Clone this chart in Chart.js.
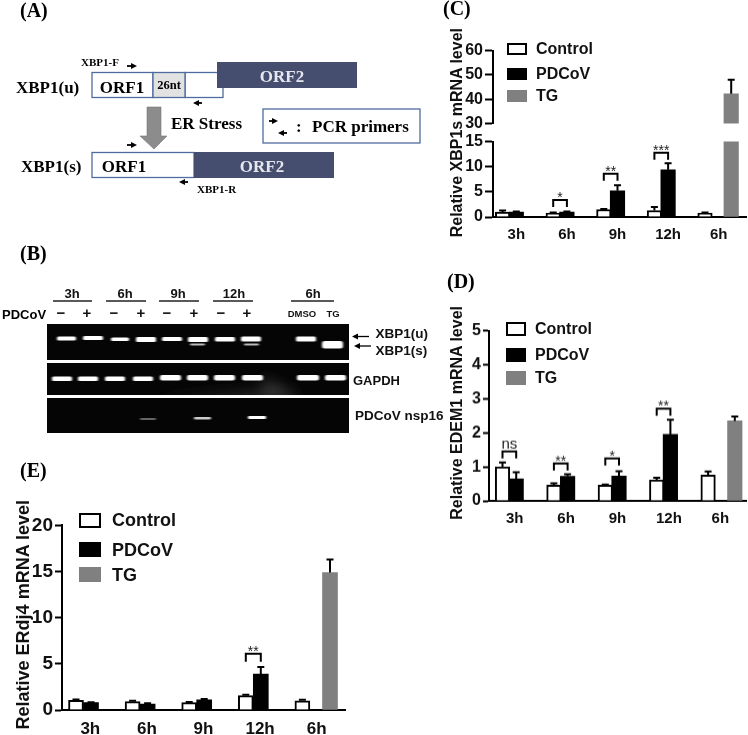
<!DOCTYPE html>
<html>
<head>
<meta charset="utf-8">
<title>XBP1 figure</title>
<script src="https://cdn.jsdelivr.net/npm/chart.js@4/dist/chart.umd.min.js"></script>
<style>
  html, body { margin: 0; padding: 0; background: #fff; }
  #page { position: relative; width: 748px; height: 735px; overflow: hidden; font-family: "Liberation Sans", Arial, sans-serif; color: #111; }
  #page canvas { position: absolute; }
  #page svg { position: absolute; left: 0; top: 0; }
  .soft { filter: blur(0.45px); }
  .box { position: absolute; box-sizing: border-box; }
  .lab { position: absolute; font-weight: bold; line-height: 1; transform: translateY(-50%); }
  .ytitle { position: absolute; font-weight: bold; white-space: nowrap; writing-mode: vertical-rl; transform: rotate(180deg); line-height: 20px; }
  .panel { font-family: "Liberation Serif", serif; font-weight: bold; font-size: 20px; }
  .ser { font-family: "Liberation Serif", serif; font-weight: bold; }
  .san { font-family: "Liberation Sans", sans-serif; font-weight: bold; }
</style>
</head>
<body>
<div id="page">
  <svg class="soft" width="748" height="735" viewBox="0 0 748 735">
    <defs>
      <marker id="ah" markerWidth="7" markerHeight="7" refX="4" refY="3" orient="auto" markerUnits="userSpaceOnUse">
        <path d="M0,0 L6,3 L0,6 Z" fill="#000"/>
      </marker>
      <filter id="band" x="-20%" y="-100%" width="140%" height="300%"><feGaussianBlur stdDeviation="0.9 0.6"/></filter>
      <filter id="haze" x="-30%" y="-30%" width="160%" height="160%"><feGaussianBlur stdDeviation="7"/></filter>
      <clipPath id="gel2"><rect x="47" y="363" width="302" height="32"/></clipPath>
    </defs>

    <!-- panel letters -->
    <text class="panel" x="20" y="17">(A)</text>
    <text class="panel" x="20" y="260">(B)</text>
    <text class="panel" x="443" y="15">(C)</text>
    <text class="panel" x="447" y="288">(D)</text>
    <text class="panel" x="20" y="477">(E)</text>

    <!-- A: schematic -->
    <rect x="185" y="72.5" width="38" height="25" fill="none" stroke="#4f6c9f" stroke-width="1.3"/>
    <rect x="217" y="62" width="140" height="26" fill="#454e6e"/>
    <rect x="92" y="72.5" width="61" height="25" fill="#fff" stroke="#4f6c9f" stroke-width="1.3"/>
    <rect x="153" y="72.5" width="32" height="25" fill="#e2e2e2" stroke="#4f6c9f" stroke-width="1.3"/>
    <text class="ser" x="81" y="66" font-size="11">XBP1-F</text>
    <line x1="127" y1="66" x2="135" y2="66" stroke="#000" stroke-width="1.8" marker-end="url(#ah)"/>
    <text class="ser" x="16" y="93" font-size="17">XBP1(u)</text>
    <text class="ser" x="122" y="93" font-size="17" text-anchor="middle">ORF1</text>
    <text class="ser" x="169" y="89" font-size="12.5" text-anchor="middle">26nt</text>
    <text class="ser" x="282" y="82" font-size="17" text-anchor="middle" fill="#e6e6ee">ORF2</text>
    <line x1="202" y1="103" x2="195" y2="103" stroke="#000" stroke-width="1.8" marker-end="url(#ah)"/>
    <path d="M147,107 L161,107 L161,136 L167,136 L154,149 L140,136 L147,136 Z" fill="#8c8c8c" stroke="#777" stroke-width="0.6"/>
    <text class="ser" x="171" y="129" font-size="17">ER Stress</text>
    <rect x="263" y="109" width="157" height="34" fill="#fff" stroke="#4f6c9f" stroke-width="1.3"/>
    <line x1="269" y1="121" x2="276" y2="121" stroke="#000" stroke-width="1.8" marker-end="url(#ah)"/>
    <line x1="287" y1="133" x2="280" y2="133" stroke="#000" stroke-width="1.8" marker-end="url(#ah)"/>
    <text class="ser" x="296" y="132" font-size="17">:</text>
    <text class="ser" x="312" y="132" font-size="17">PCR primers</text>
    <line x1="127" y1="145" x2="135" y2="145" stroke="#000" stroke-width="1.8" marker-end="url(#ah)"/>
    <text class="ser" x="21" y="172" font-size="17">XBP1(s)</text>
    <rect x="92" y="152.5" width="102" height="25" fill="#fff" stroke="#4f6c9f" stroke-width="1.3"/>
    <rect x="194" y="152" width="140" height="26" fill="#454e6e"/>
    <text class="ser" x="124" y="172" font-size="17" text-anchor="middle">ORF1</text>
    <text class="ser" x="262" y="172" font-size="17" text-anchor="middle" fill="#e6e6ee">ORF2</text>
    <line x1="188" y1="182" x2="181" y2="182" stroke="#000" stroke-width="1.8" marker-end="url(#ah)"/>
    <text class="ser" x="197" y="193" font-size="11">XBP1-R</text>

    <!-- B: gel -->
    <g class="san" text-anchor="middle" font-size="13" fill="#111">
      <text x="72" y="298">3h</text><text x="125" y="298">6h</text><text x="178" y="298">9h</text><text x="234" y="298">12h</text><text x="313" y="298">6h</text>
      <text x="61" y="318" font-size="15">−</text><text x="87" y="318" font-size="15">+</text>
      <text x="114" y="318" font-size="15">−</text><text x="141" y="318" font-size="15">+</text>
      <text x="167" y="318" font-size="15">−</text><text x="194" y="318" font-size="15">+</text>
      <text x="221" y="318" font-size="15">−</text><text x="247" y="318" font-size="15">+</text>
      <text x="302" y="317" font-size="9.5">DMSO</text><text x="333" y="317" font-size="9.5">TG</text>
    </g>
    <g stroke="#222" stroke-width="1.3">
      <line x1="53" y1="301" x2="92" y2="301"/><line x1="106" y1="301" x2="146" y2="301"/>
      <line x1="159" y1="301" x2="199" y2="301"/><line x1="213" y1="301" x2="253" y2="301"/>
      <line x1="291" y1="301" x2="334" y2="301"/>
    </g>
    <text class="san" x="2" y="319" font-size="13">PDCoV</text>

    <rect x="47" y="324" width="302" height="36" fill="#050505"/>
    <rect x="47" y="363" width="302" height="32" fill="#050505"/>
    <rect x="47" y="398" width="302" height="35" fill="#050505"/>
    <g clip-path="url(#gel2)">
      <path d="M150,400 L265,392 L262,378 L290,392 L300,400 Z" fill="#3a3a3a" filter="url(#haze)"/>
    </g>
    <g fill="#fff" filter="url(#band)">
      <rect x="57" y="336.5" width="19" height="4" rx="1.5"/><rect x="83" y="336" width="20" height="4" rx="1.5"/>
      <rect x="111" y="337.5" width="18" height="3.5" rx="1.5"/><rect x="136" y="337" width="20" height="5" rx="1.5"/>
      <rect x="162" y="337" width="20" height="4" rx="1.5"/><rect x="188" y="337" width="20" height="5" rx="1.5"/>
      <rect x="215" y="337" width="20" height="4.5" rx="1.5"/><rect x="241" y="336.5" width="20" height="5" rx="1.5"/>
      <rect x="296" y="336.5" width="20" height="5" rx="1.5"/><rect x="322" y="341" width="21" height="7.5" rx="2.5"/>
      <rect x="190" y="343.5" width="15" height="2" rx="1" fill="#bbb"/><rect x="244" y="343.5" width="15" height="2" rx="1" fill="#bbb"/>
      <rect x="52" y="376.5" width="20" height="4.5" rx="1.5"/><rect x="78" y="376.5" width="20" height="4.5" rx="1.5"/>
      <rect x="105" y="376.5" width="20" height="4.5" rx="1.5"/><rect x="133" y="376.5" width="20" height="4.5" rx="1.5"/>
      <rect x="160" y="375" width="21" height="5.5" rx="2"/><rect x="187" y="375" width="21" height="5.5" rx="2"/>
      <rect x="214" y="375" width="21" height="5.5" rx="2"/><rect x="242" y="375" width="21" height="5.5" rx="2"/>
      <rect x="297" y="375" width="22" height="5.5" rx="2"/><rect x="325" y="375" width="21" height="5.5" rx="2"/>
      <rect x="140" y="418" width="16" height="2" rx="1" fill="#666"/>
      <rect x="194" y="417" width="17" height="2.5" rx="1" fill="#ccc"/>
      <rect x="248" y="416" width="18" height="3" rx="1"/>
    </g>
    <line x1="369" y1="336.5" x2="354" y2="336.5" stroke="#000" stroke-width="1.3" marker-end="url(#ah)"/>
    <line x1="371" y1="346" x2="356" y2="346" stroke="#000" stroke-width="1.3" marker-end="url(#ah)"/>
    <g class="san" font-size="13.5" fill="#111">
      <text x="375.5" y="338">XBP1(u)</text>
      <text x="375.5" y="355">XBP1(s)</text>
      <text x="353" y="385" font-size="13">GAPDH</text>
      <text x="355" y="420">PDCoV nsp16</text>
    </g>
  </svg>

  <div class="ytitle soft" style="left:447px;top:28px;font-size:16px">Relative XBP1s mRNA level</div>
  <div class="ytitle soft" style="left:447px;top:306px;font-size:16px">Relative EDEM1 mRNA level</div>
  <div class="ytitle soft" style="left:12px;top:500px;font-size:18px;line-height:22px">Relative ERdj4 mRNA level</div>
  <canvas id="chartCTop" class="soft"></canvas>
  <canvas id="chartC" class="soft"></canvas>
  <canvas id="chartD" class="soft"></canvas>
  <canvas id="chartE" class="soft"></canvas>
</div>

<script>
const hours = ["3h", "6h", "9h", "12h", "6h"];
const seriesNames = ["Control", "PDCoV", "TG"];

// XBP1s
const xbp1sControl = [1.0, 0.8, 1.5, 1.3, 0.8];
const xbp1sControlErr = [1.3, 0.9, 1.6, 2.0, 0.9];
const xbp1sPdcov = [1.0, 1.0, 5.2, 9.4, null];
const xbp1sPdcovErr = [1.1, 1.1, 6.3, 10.7, null];
const xbp1sTg = [null, null, null, null, 42.2];
const xbp1sTgErr = [null, null, null, null, 48];
const xbp1sSigLabels = ["", "*", "**", "***", ""];
const xbp1sSigLevels = [null, 3.4, 8.6, 12.8, null];

// EDEM1
const edem1Control = [1.0, 0.46, 0.46, 0.62, 0.76];
const edem1ControlErr = [1.13, 0.52, 0.48, 0.68, 0.86];
const edem1Pdcov = [0.65, 0.72, 0.73, 1.95, null];
const edem1PdcovErr = [0.84, 0.78, 0.87, 2.38, null];
const edem1Tg = [null, null, null, null, 2.35];
const edem1TgErr = [null, null, null, null, 2.48];
const edem1SigLabels = ["ns", "**", "*", "**", ""];
const edem1SigLevels = [1.45, 1.1, 1.25, 2.71, null];

// ERdj4
const erdj4Control = [1.05, 0.9, 0.8, 1.55, 1.0];
const erdj4ControlErr = [1.15, 1.0, 0.88, 1.65, 1.1];
const erdj4Pdcov = [0.8, 0.65, 1.1, 3.9, null];
const erdj4PdcovErr = [0.85, 0.72, 1.2, 4.65, null];
const erdj4Tg = [null, null, null, null, 14.9];
const erdj4TgErr = [null, null, null, null, 16.3];
const erdj4SigLabels = ["", "", "", "**", ""];
const erdj4SigLevels = [null, null, null, 6.1, null];

const FONT = '"Liberation Sans", Arial, sans-serif';

// nudges bars sideways, then draws error bars and brackets from the scales
const extrasPlugin = {
  id: "extras",
  afterDatasetsUpdate(chart) {
    chart.data.datasets.forEach((ds, i) => {
      chart.getDatasetMeta(i).data.forEach((el) => { el.x += ds.dx || 0; });
    });
  },
  afterDatasetsDraw(chart, args, opts) {
    const { ctx } = chart;
    const y = chart.scales.y;
    ctx.save();
    ctx.strokeStyle = "#000";
    ctx.lineWidth = 2;
    chart.data.datasets.forEach((ds, i) => {
      chart.getDatasetMeta(i).data.forEach((el, k) => {
        const top = ds.err[k];
        if (top == null || top > y.max || top < y.min) return;
        const py = y.getPixelForValue(top);
        ctx.beginPath();
        ctx.moveTo(el.x, y.getPixelForValue(ds.data[k]));
        ctx.lineTo(el.x, py);
        ctx.moveTo(el.x - 3.5, py);
        ctx.lineTo(el.x + 3.5, py);
        ctx.stroke();
      });
    });
    if (opts.levels) {
      const a = chart.getDatasetMeta(0).data;
      const b = chart.getDatasetMeta(1).data;
      opts.levels.forEach((lvl, k) => {
        if (lvl == null) return;
        const py = y.getPixelForValue(lvl);
        ctx.beginPath();
        ctx.moveTo(a[k].x, py + opts.leg);
        ctx.lineTo(a[k].x, py);
        ctx.lineTo(b[k].x, py);
        ctx.lineTo(b[k].x, py + opts.leg);
        ctx.stroke();
        const ns = opts.labels[k] === "ns";
        ctx.fillStyle = "#222";
        ctx.textAlign = "center";
        ctx.textBaseline = "alphabetic";
        ctx.font = (ns ? "15px " : "14px ") + FONT;
        ctx.fillText(opts.labels[k], (a[k].x + b[k].x) / 2, ns ? py - 3 : py + 2);
      });
    }
    ctx.restore();
  },
};

function makeBars(s) {
  return [
    { label: seriesNames[0], data: s.control, err: s.controlErr, dx: s.dx[0], backgroundColor: "#fff", borderColor: "#000", borderWidth: 2 },
    { label: seriesNames[1], data: s.pdcov, err: s.pdcovErr, dx: s.dx[1], backgroundColor: "#000", borderColor: "#000", borderWidth: 0 },
    { label: seriesNames[2], data: s.tg, err: s.tgErr, dx: s.dx[2], backgroundColor: "#808080", borderWidth: 0 },
  ];
}

function makeChart(id, s, a) {
  const el = document.getElementById(id);
  const padTop = 10, padRight = 2;
  const xH = a.hideX ? 8 : a.xHeight;
  const w = a.right - a.left + a.axisW + padRight;
  const h = a.bottom - a.top + padTop + xH;
  el.width = w;
  el.height = h;
  el.style.left = a.left - a.axisW + "px";
  el.style.top = a.top - padTop + "px";
  el.style.width = w + "px";
  el.style.height = h + "px";
  return new Chart(el, {
    type: "bar",
    data: { labels: hours, datasets: makeBars(s) },
    plugins: [extrasPlugin],
    options: {
      responsive: false,
      animation: false,
      layout: { padding: { top: padTop, right: padRight, bottom: a.hideX ? xH : 0, left: 0 } },
      datasets: { bar: { barThickness: a.barW } },
      plugins: {
        legend: { display: false },
        tooltip: { enabled: false },
        extras: { labels: s.sigLabels, levels: s.sigLevels, leg: a.leg },
      },
      scales: {
        x: {
          display: !a.hideX,
          afterFit(scale) { scale.height = a.xHeight; },
          grid: { display: false, drawTicks: false },
          border: { color: "#000", width: 2 },
          ticks: { color: "#111", font: { family: FONT, size: a.xFont, weight: "bold" }, maxRotation: 0, autoSkip: false, padding: a.xPad, labelOffset: a.xOffset || 0 },
        },
        y: {
          min: a.min,
          max: a.max,
          afterFit(scale) { scale.width = a.axisW; },
          border: { color: "#000", width: 2 },
          grid: { drawOnChartArea: false, drawTicks: true, tickLength: a.tickLen, tickWidth: 2, tickColor: "#000" },
          ticks: { stepSize: a.step, color: "#111", font: { family: FONT, size: a.yFont, weight: "bold" }, padding: 2 },
        },
      },
    },
  });
}

function addLegend(rows, box) {
  const page = document.getElementById("page");
  const fills = ["#fff", "#000", "#808080"];
  seriesNames.forEach((name, i) => {
    const b = document.createElement("div");
    b.className = "box soft";
    b.style.cssText = `left:${box.x}px;top:${rows[i] - box.h / 2}px;width:${box.w}px;height:${box.h}px;background:${fills[i]};` + (i === 0 ? "border:2px solid #000;" : "");
    page.appendChild(b);
    const t = document.createElement("div");
    t.className = "lab soft";
    t.textContent = name;
    t.style.cssText = `left:${box.tx}px;top:${rows[i]}px;font-size:${box.font}px;`;
    page.appendChild(t);
  });
}

const xbp1s = {
  control: xbp1sControl, controlErr: xbp1sControlErr, pdcov: xbp1sPdcov, pdcovErr: xbp1sPdcovErr,
  tg: xbp1sTg, tgErr: xbp1sTgErr, sigLabels: xbp1sSigLabels, sigLevels: xbp1sSigLevels, dx: [-1.2, -2, -4],
};
const xbp1sTop = { ...xbp1s, sigLevels: null };

makeChart("chartCTop", xbp1sTop, { left: 493, right: 746, top: 49, bottom: 127, axisW: 31, hideX: true, xHeight: 0, barW: 14.5, min: 30, max: 60, step: 10, tickLen: 8, yFont: 16, leg: 7 });
makeChart("chartC", xbp1s, { left: 493, right: 746, top: 140, bottom: 217, axisW: 31, xHeight: 26, xFont: 15, xPad: 9, xOffset: -2, barW: 14.5, min: 0, max: 15, step: 5, tickLen: 8, yFont: 16, leg: 7 });

makeChart("chartD", {
  control: edem1Control, controlErr: edem1ControlErr, pdcov: edem1Pdcov, pdcovErr: edem1PdcovErr,
  tg: edem1Tg, tgErr: edem1TgErr, sigLabels: edem1SigLabels, sigLevels: edem1SigLevels, dx: [2.3, 1.5, 0],
}, { left: 489, right: 746, top: 329, bottom: 500.5, axisW: 42, xHeight: 28, xFont: 15, xPad: 9, barW: 14.5, min: 0, max: 5, step: 1, tickLen: 6, yFont: 16, leg: 7 });

makeChart("chartE", {
  control: erdj4Control, controlErr: erdj4ControlErr, pdcov: erdj4Pdcov, pdcovErr: erdj4PdcovErr,
  tg: erdj4Tg, tgErr: erdj4TgErr, sigLabels: erdj4SigLabels, sigLevels: erdj4SigLevels, dx: [0.7, 0.7, -1.7],
}, { left: 62, right: 345, top: 521.7, bottom: 710, axisW: 50, xHeight: 25, xFont: 17, xPad: 9, barW: 15, min: 0, max: 20, step: 5, tickLen: 7, yFont: 19, leg: 8 });

addLegend([48.5, 74, 96], { x: 507, w: 20, h: 12, tx: 536, font: 16 });
addLegend([329, 355, 378], { x: 506, w: 20, h: 14, tx: 535, font: 16 });
addLegend([520, 549.5, 574.5], { x: 79, w: 22, h: 15, tx: 112, font: 18 });
</script>
</body>
</html>
